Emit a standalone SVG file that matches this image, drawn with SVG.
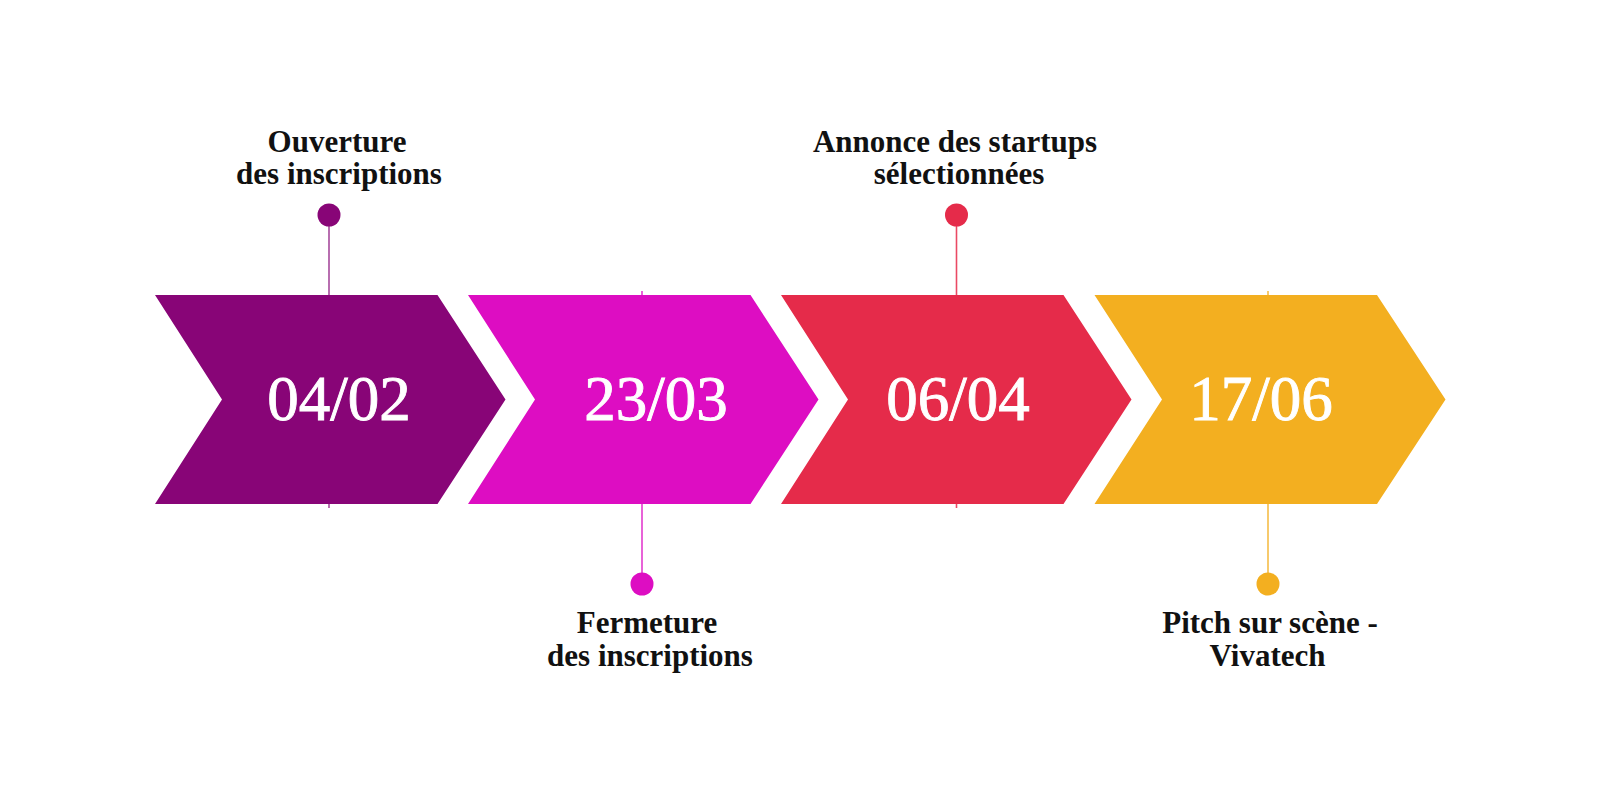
<svg xmlns="http://www.w3.org/2000/svg" width="1600" height="800" viewBox="0 0 1600 800">
<style>
.date{font-family:"Liberation Serif","Times New Roman",serif;font-size:63px;fill:#ffffff;stroke:#ffffff;stroke-width:0.9;text-anchor:middle}
.lbl{font-family:"Liberation Serif","Times New Roman",serif;font-size:31px;font-weight:bold;fill:#111111;text-anchor:middle}
.stem{stroke-width:1.6}
</style>
<rect width="1600" height="800" fill="#ffffff"/>
<g id="connectors">
<line class="stem" x1="329" y1="215" x2="329" y2="508" stroke="#a64a9c"/>
<line class="stem" x1="642" y1="291" x2="642" y2="584" stroke="#e33ccf"/>
<line class="stem" x1="956.5" y1="215" x2="956.5" y2="508" stroke="#ea4a64"/>
<line class="stem" x1="1268" y1="291" x2="1268" y2="584" stroke="#f5bd48"/>
</g>
<g id="step1">
<polygon points="155,295 437.5,295 505.5,399.5 437.5,504 155,504 222,399.5" fill="#880577"/>
<text class="date" x="339" y="420">04/02</text>
<circle cx="329" cy="215" r="11.5" fill="#880577"/>
<text class="lbl" x="337" y="152">Ouverture</text>
<text class="lbl" x="339" y="184">des inscriptions</text>
</g>
<g id="step2">
<polygon points="468,295 750.5,295 818.5,399.5 750.5,504 468,504 535,399.5" fill="#dd0dc2"/>
<text class="date" x="656" y="420">23/03</text>
<circle cx="642" cy="584" r="11.5" fill="#dd0dc2"/>
<text class="lbl" x="647" y="633">Fermeture</text>
<text class="lbl" x="650" y="666">des inscriptions</text>
</g>
<g id="step3">
<polygon points="781,295 1063.5,295 1131.5,399.5 1063.5,504 781,504 848,399.5" fill="#e52b4a"/>
<text class="date" x="958" y="420">06/04</text>
<circle cx="956.5" cy="215" r="11.5" fill="#e52b4a"/>
<text class="lbl" x="955" y="152">Annonce des startups</text>
<text class="lbl" x="959" y="184">sélectionnées</text>
</g>
<g id="step4">
<polygon points="1094.5,295 1377,295 1445.5,399.5 1377,504 1094.5,504 1162,399.5" fill="#f3af20"/>
<text class="date" x="1261" y="420">17/06</text>
<circle cx="1268" cy="584" r="11.5" fill="#f3af20"/>
<text class="lbl" x="1270" y="633">Pitch sur scène -</text>
<text class="lbl" x="1267.5" y="666">Vivatech</text>
</g>
</svg>
